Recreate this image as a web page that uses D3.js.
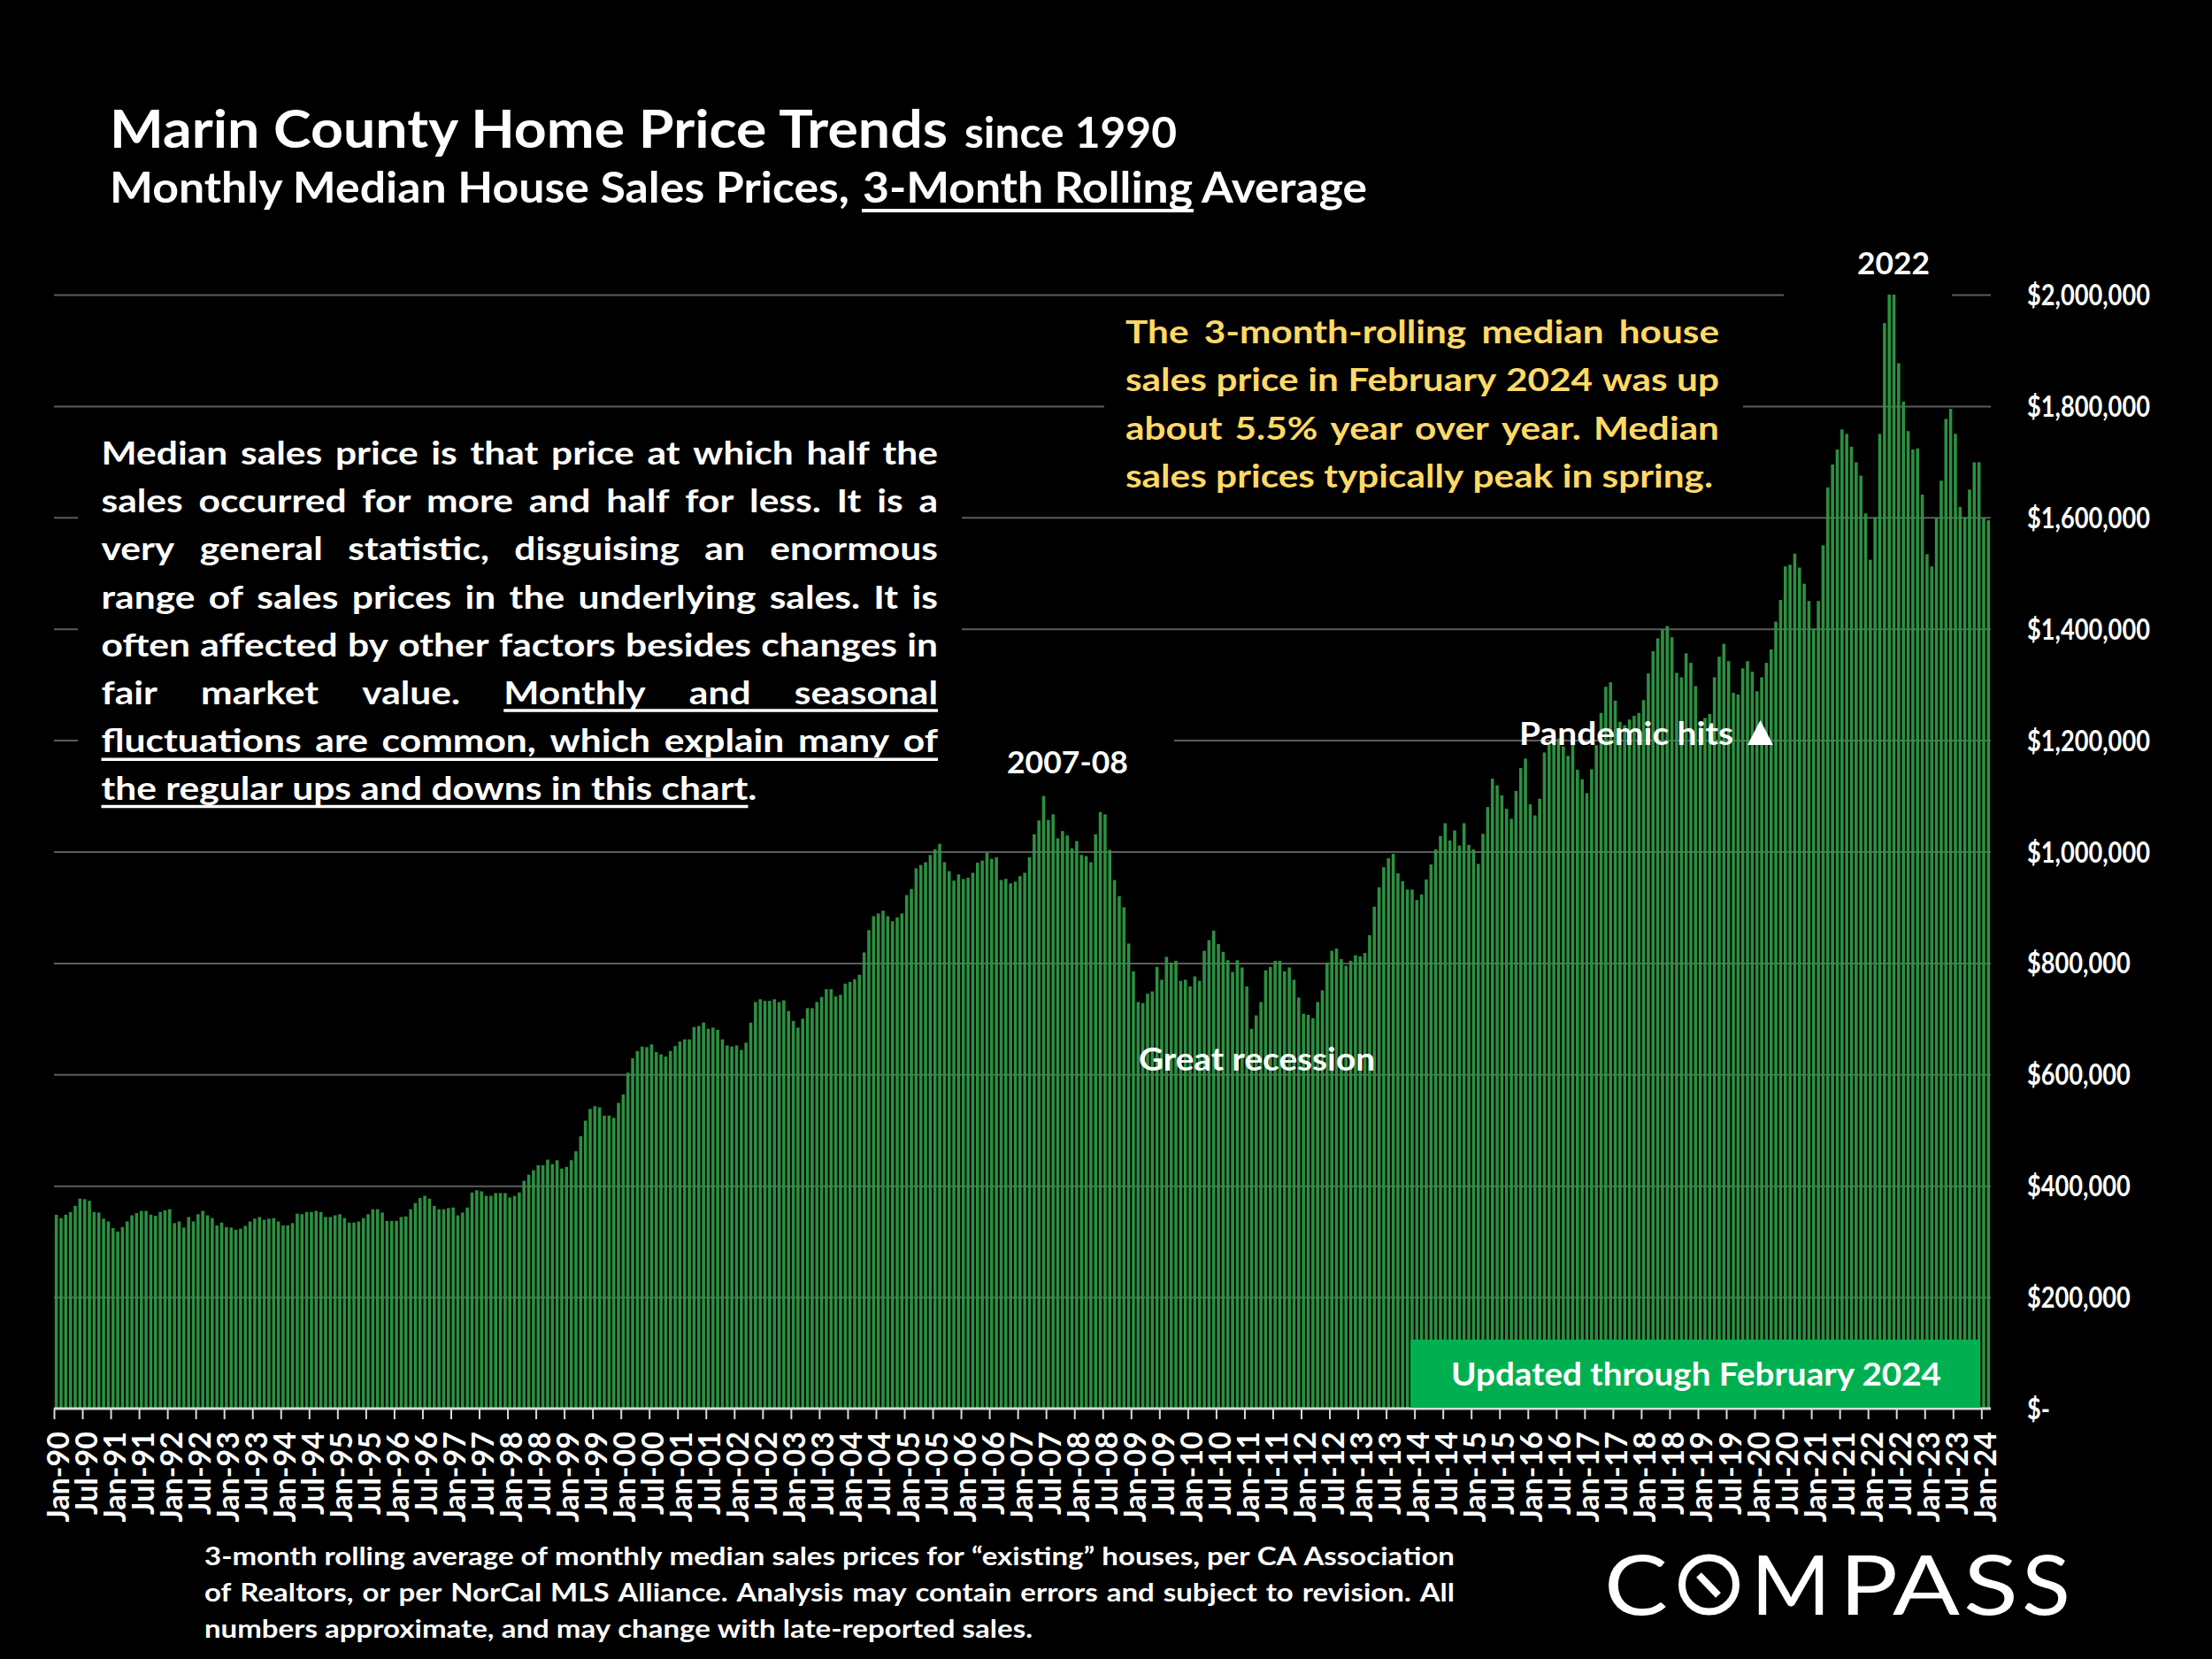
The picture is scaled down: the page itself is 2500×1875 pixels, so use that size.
<!DOCTYPE html>
<html><head><meta charset="utf-8">
<script src="https://cdnjs.cloudflare.com/ajax/libs/d3/7.8.5/d3.min.js"></script>
<style>
html,body{margin:0;padding:0;background:#000;}
svg{display:block;}
text{font-family:Lato,"Open Sans",sans-serif;font-weight:700;fill:#fff;}
</style></head><body>
<svg id="chart" width="2500" height="1875"></svg>
<script>
// Monthly median price, thousands of dollars, Jan-90 .. Feb-24
const medianPriceK = [
348,342,348,353,364,377,376,373,353,352,341,336,
324,318,326,336,347,351,355,355,348,346,353,356,
358,333,336,325,344,336,349,355,347,342,329,334,
326,325,321,323,328,336,341,344,339,341,342,336,
329,329,333,350,349,353,353,355,353,344,344,347,
349,342,334,334,336,342,349,358,358,352,337,337,
337,344,345,358,369,378,382,377,364,358,358,360,
361,347,352,361,388,392,390,382,382,387,387,387,
379,382,388,409,420,428,437,437,447,439,446,431,
434,446,462,489,517,538,543,541,526,526,522,549,
564,603,629,642,650,649,654,640,636,632,642,651,
659,663,663,685,687,693,682,684,680,663,652,650,
652,644,657,693,730,735,732,732,735,730,733,714,
696,684,700,719,719,730,739,753,753,740,743,763,
766,771,779,819,859,884,889,894,884,875,882,889,
922,933,970,976,981,994,1004,1014,981,965,948,959,
951,953,962,980,984,998,987,990,949,951,943,946,
956,962,990,1031,1056,1100,1057,1067,1024,1037,1029,1006,
1019,994,992,981,1031,1071,1067,1003,949,920,900,835,
785,730,728,745,749,793,770,811,801,804,768,770,
758,776,768,822,841,858,834,820,805,784,805,792,
758,682,706,730,787,793,804,804,785,792,770,738,
709,707,701,730,751,801,822,826,807,795,804,814,
812,818,850,901,936,972,988,996,961,947,932,932,
913,923,950,977,1004,1028,1051,1020,1038,1011,1051,1012,
1004,978,1032,1080,1131,1119,1101,1077,1059,1109,1150,1167,
1085,1065,1095,1178,1193,1219,1203,1189,1172,1197,1147,1130,
1105,1148,1191,1249,1296,1304,1271,1233,1227,1237,1244,1249,
1272,1320,1360,1383,1398,1405,1385,1321,1313,1356,1339,1297,
1225,1240,1247,1313,1350,1373,1342,1285,1282,1329,1342,1323,
1288,1313,1339,1363,1413,1452,1512,1515,1535,1510,1481,1450,
1400,1450,1550,1654,1695,1722,1758,1750,1727,1699,1675,1607,
1524,1600,1750,1949,2000,2000,1877,1808,1755,1722,1724,1641,
1534,1512,1599,1666,1777,1795,1750,1619,1600,1650,1699,1699,1599,1595
];
const monthNames = ["Jan","Feb","Mar","Apr","May","Jun","Jul","Aug","Sep","Oct","Nov","Dec"];
const categories = medianPriceK.map((_, i) => {
  const yr = (1990 + Math.floor(i / 12)) % 100;
  return monthNames[i % 12] + "-" + String(yr).padStart(2, "0");
});
const xTickLabels = categories.filter((_, i) => i % 6 === 0);
const yTicksK = [0,200,400,600,800,1000,1200,1400,1600,1800,2000];
const yTickLabels = ["$-","$200,000","$400,000","$600,000","$800,000","$1,000,000","$1,200,000","$1,400,000","$1,600,000","$1,800,000","$2,000,000"];

const noteLines = [
 "Median sales price is that price at which half the",
 "sales occurred for more and half for less. It is a",
 "very general statistic, disguising an enormous",
 "range of sales prices in the underlying sales. It is",
 "often affected by other factors besides changes in",
 "fair market value. Monthly and seasonal",
 "fluctuations are common, which explain many of",
 "the regular ups and downs in this chart."
];
const calloutLines = [
 "The 3-month-rolling median house",
 "sales price in February 2024 was up",
 "about 5.5% year over year. Median",
 "sales prices typically peak in spring."
];
const footLines = [
 "3-month rolling average of monthly median sales prices for “existing” houses, per CA Association",
 "of Realtors, or per NorCal MLS Alliance. Analysis may contain errors and subject to revision. All",
 "numbers approximate, and may change with late-reported sales."
];
const logoLetters = ["C","M","P","A","S","S"];

const svg = d3.select("#chart");
svg.append("rect").attr("width",2500).attr("height",1875).attr("fill","#000");

const L=61,R=2250,B=1592,T=333;
const x = d3.scaleBand().domain(categories).range([L,R]).paddingInner(0.33).paddingOuter(0.165);
const xTick = d3.scalePoint().domain(categories).range([L, L + x.step()*(categories.length-1)]);
const y = d3.scaleLinear().domain([0,2000]).range([B,T]);

// gridlines
const grid = d3.axisRight(y).tickValues(yTicksK.slice(1)).tickSize(R-L).tickFormat("");
const gg = svg.append("g").attr("transform",`translate(${L},0)`).call(grid);
gg.select(".domain").remove();
gg.selectAll("line").attr("stroke","#5c5c5c").attr("stroke-width",2);

// black text backings that interrupt the gridlines
[[88,470,999,455],[1248,350,722,225],[2016,290,190,60],[88,820,1239,55]].forEach(b=>
  svg.append("rect").attr("x",b[0]).attr("y",b[1]).attr("width",b[2]).attr("height",b[3]).attr("fill","#000"));

// bars
svg.append("g").selectAll("rect").data(medianPriceK).join("rect")
  .attr("x",(d,i)=>x(categories[i])).attr("width",x.bandwidth())
  .attr("y",d=>y(d)).attr("height",d=>B-y(d))
  .attr("fill","#2e9644").attr("fill-opacity",0.96);

// x axis
const xa = svg.append("g").attr("transform",`translate(0,${B})`)
  .call(d3.axisBottom(xTick).tickValues(xTickLabels).tickSize(12).tickSizeOuter(0));
xa.select(".domain").remove();
xa.append("line").attr("x1",L).attr("x2",R).attr("stroke","#d9d9d9").attr("stroke-width",3);
xa.selectAll(".tick line").attr("stroke","#d9d9d9").attr("stroke-width",2);
xa.selectAll(".tick text")
  .attr("transform","translate(16,26) rotate(-90)")
  .attr("x",0).attr("y",0).attr("dy",0)
  .attr("text-anchor","end")
  .style("font-size","34px").style("font-family","Lato").style("font-weight","700").style("fill","#fff");

function measure(str,size){
  const t=svg.append("text").style("font-size",size+"px").attr("xml:space","preserve").text(str);
  const w=t.node().getComputedTextLength(); t.remove(); return w;
}

// y labels
const yLabelScale = 139/measure("$2,000,000",33);
const ya = svg.append("g").attr("transform","translate(2291,0)")
  .call(d3.axisRight(y).tickValues(yTicksK).tickSize(0).tickPadding(0).tickFormat((d,i)=>yTickLabels[i]));
ya.select(".domain").remove();
ya.selectAll(".tick text").attr("text-anchor","start").attr("dy","0.35em")
  .attr("x",0).attr("transform",`scale(${yLabelScale},1)`)
  .style("font-size","33px").style("font-family","Lato").style("font-weight","700").style("fill","#fff");

// fitted single text run
function fit(str,xp,yp,size,width,fill){
  return svg.append("text").attr("x",xp).attr("y",yp).style("font-size",size+"px")
    .attr("textLength",width).attr("lengthAdjust","spacingAndGlyphs")
    .style("fill",fill||"#fff").text(str);
}
// justified paragraph, last line natural width, drawn word by word
function para(lines,x0,x1,baseY,step,size,lastWidth,fill,underlines){
  const sp=measure("a a",size)-2*measure("a",size);
  const last=lines[lines.length-1].split(" ");
  const natural=d3.sum(last,w=>measure(w,size))+sp*(last.length-1);
  const sx=lastWidth/natural;
  lines.forEach((ln,li)=>{
    const words=ln.split(" "), ws=words.map(w=>measure(w,size)*sx);
    const isLast=li===lines.length-1;
    const gap=isLast?sp*sx:(x1-x0-d3.sum(ws))/(words.length-1);
    let cx=x0; const yb=baseY+li*step; const starts=[];
    words.forEach((w,wi)=>{
      starts.push(cx);
      svg.append("text").attr("transform",`translate(${cx},${yb}) scale(${sx},1)`)
        .style("font-size",size+"px").style("fill",fill).text(w);
      cx+=ws[wi]+gap;
    });
    const u=underlines&&underlines[li];
    if(u) svg.append("line").attr("x1",starts[u[0]]).attr("x2",x0+(isLast?lastWidth:(x1-x0))-u[1])
      .attr("y1",yb+u[2]).attr("y2",yb+u[2]).attr("stroke",fill).attr("stroke-width",3.5);
  });
}

// titles
fit("Marin County Home Price Trends",124,167,60,947);
fit("since 1990",1090,167,47,240);
fit("Monthly Median House Sales Prices,",124,229,47,836);
fit("3-Month Rolling",975,229,47,373);
fit("Average",1358,229,47,187);
svg.append("line").attr("x1",974).attr("x2",1349).attr("y1",238).attr("y2",238).attr("stroke","#fff").attr("stroke-width",4);

// paragraphs
para(noteLines,114.5,1060,525,54.2,37,741,"#fff",{5:[3,0,7],6:[0,0,8],7:[0,10,7]});
para(calloutLines,1272,1943,388,54.3,37,664,"#FFD966",null);
para(footLines,231,1644,1769,41,29,936,"#fff",null);

// annotations
fit("2022",2099,310,35,82);
fit("2007-08",1138,874,35,137);
fit("Great recession",1287,1210,36,267);
fit("Pandemic hits",1717,842,36,242);
const triX=d3.scaleLinear().domain([0,1]).range([1975,2004]);
svg.append("path").attr("fill","#fff")
  .attr("d",d3.line()([[triX(0),842],[triX(.5),814],[triX(1),842]])+"Z");

// updated box
svg.append("rect").attr("x",1594).attr("y",1514).attr("width",644).attr("height",77).attr("fill","#00B050");
fit("Updated through February 2024",1640,1566,36,554);

// logo
const logo=svg.append("g");
const logoBoxes=[[1813,72],[1979,90],[2079,66],[2139,76],[2219,62],[2285,55]];
logoLetters.forEach((s,i)=>logo.append("text").attr("x",logoBoxes[i][0]).attr("y",1825)
  .style("font-size","94px").style("font-weight","400")
  .attr("textLength",logoBoxes[i][1]).attr("lengthAdjust","spacingAndGlyphs").text(s));
logo.append("circle").attr("cx",1931.5).attr("cy",1791).attr("r",30.5).attr("fill","none").attr("stroke","#fff").attr("stroke-width",8);
logo.append("line").attr("x1",1920).attr("y1",1780).attr("x2",1942).attr("y2",1803).attr("stroke","#fff").attr("stroke-width",8);
</script>
</body></html>
